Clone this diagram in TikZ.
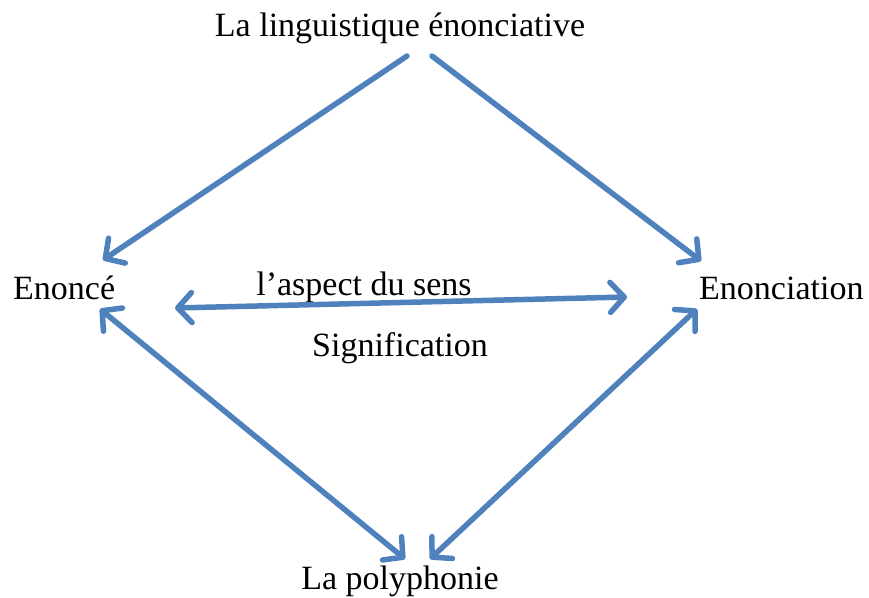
\documentclass[tikz,border=0pt]{standalone}
\usepackage{fontspec}
\setmainfont{Liberation Serif}
\usetikzlibrary{arrows.meta}
\definecolor{arrowblue}{HTML}{4F81BD}
\tikzset{
  lbl/.style={inner sep=0pt, font=\fontsize{34bp}{40bp}\selectfont},
  tipA/.tip={Straight Barb[length=14bp,width=30bp,line cap=round,line join=round]},
  conn/.style={draw=arrowblue, line width=5.5bp, line cap=round, line join=round, -tipA},
  conn2/.style={conn, tipA-tipA}
}
\begin{document}
\begin{tikzpicture}[x=1bp,y=-1bp]
\useasboundingbox (0,0) rectangle (869,598);
\node[lbl] (top) at (400,28) {La linguistique énonciative};
\node[lbl, anchor=west] (enonce) at (13,288) {Enoncé};
\node[lbl, anchor=west] (enonciation) at (699,288) {Enonciation};
\node[lbl] (aspect) at (364,287) {l’aspect du sens};
\node[lbl] (signif) at (400,348) {Signification};
\node[lbl] (poly) at (400,581) {La polyphonie};
\coordinate (t1) at (407,56);
\coordinate (t2) at (432,56);
\coordinate (eA) at (103,260);
\coordinate (eB) at (701,261);
\coordinate (mL) at (175,308);
\coordinate (mR) at (627,297);
\coordinate (eL) at (100,309);
\coordinate (eR) at (697,309);
\coordinate (pL) at (405,559);
\coordinate (pR) at (430,559);
\draw[conn] (t1) -- (eA);
\draw[conn] (t2) -- (eB);
\draw[conn2] (mL) -- (mR);
\draw[conn2] (eL) -- (pL);
\draw[conn2] (eR) -- (pR);
\end{tikzpicture}
\end{document}
